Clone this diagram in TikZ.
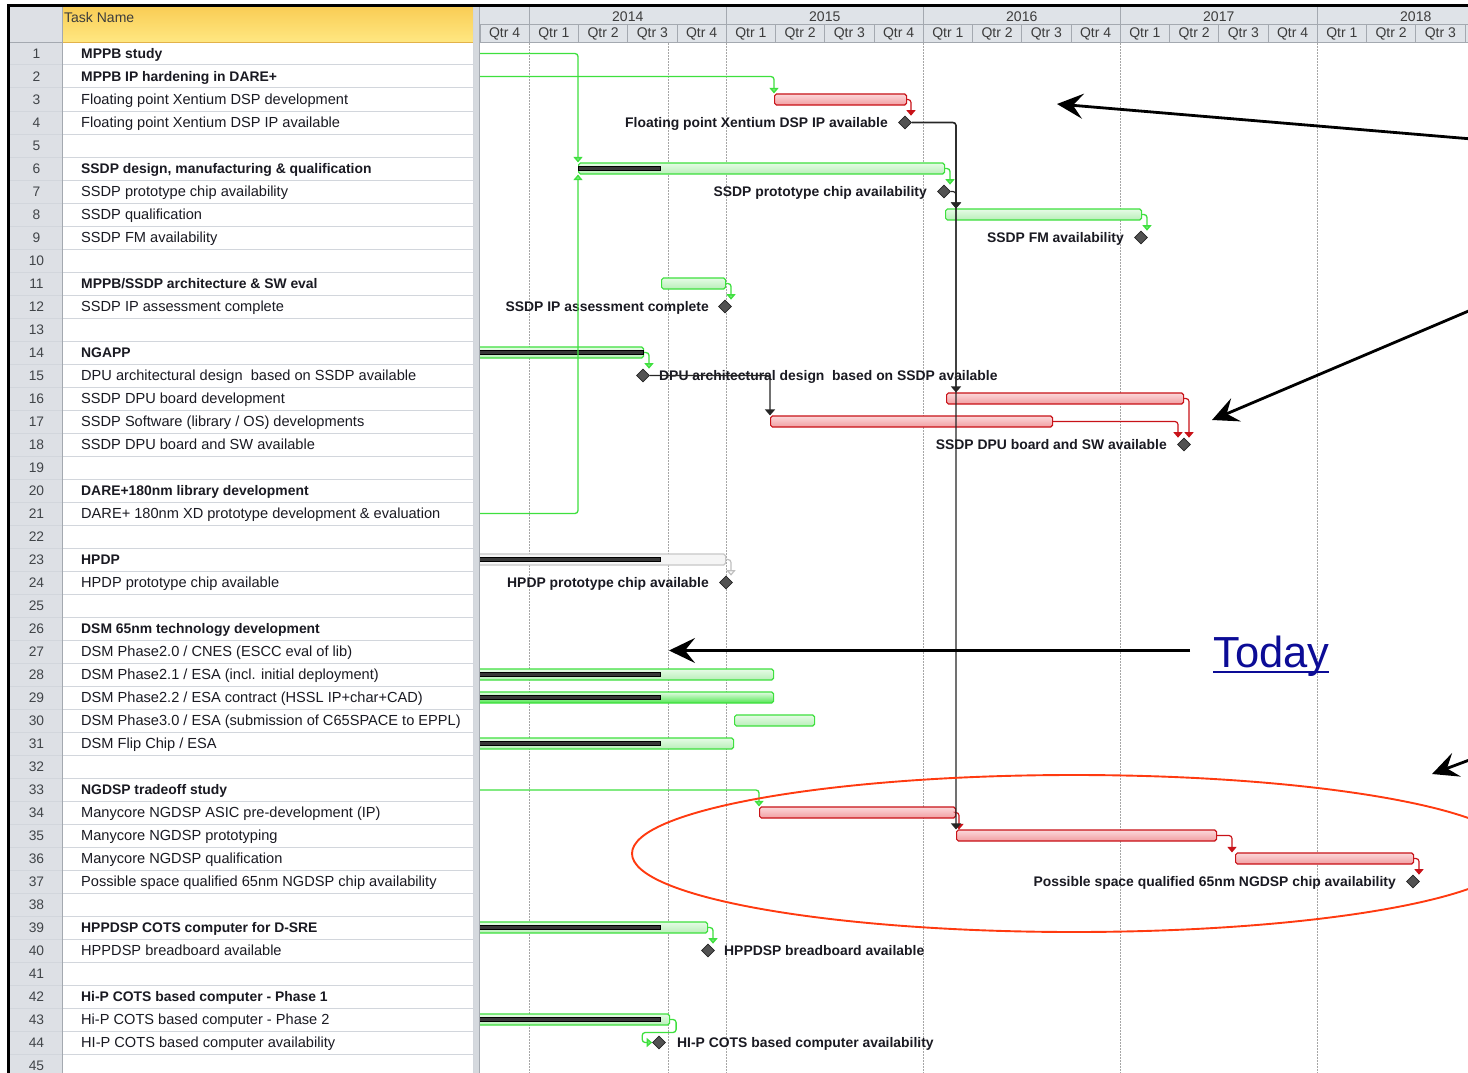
\documentclass[tikz,border=0pt]{standalone}
\usepackage{fontspec}
\setmainfont{Liberation Sans}
\usetikzlibrary{arrows.meta,shapes.geometric,calc}

\definecolor{lgreen}{HTML}{3EE03E}
\definecolor{gfill}{HTML}{CBF3CB}
\definecolor{gtop}{HTML}{E6FBE6}
\definecolor{gbot}{HTML}{B8EFB8}
\definecolor{rline}{HTML}{C81218}
\definecolor{rfill}{HTML}{F6AEB0}
\definecolor{rtop}{HTML}{FBD8DA}
\definecolor{rbot}{HTML}{F29EA2}
\definecolor{hdrgrey}{HTML}{DFE3E8}
\definecolor{hdrline}{HTML}{A4A9B0}
\definecolor{rowline}{HTML}{D2D6DC}
\definecolor{numgrey}{HTML}{DDE0E5}
\definecolor{txt}{HTML}{1A1A22}
\definecolor{numtxtc}{HTML}{404448}
\definecolor{hdrtxt}{HTML}{3C3C3C}
\definecolor{ellred}{HTML}{FF3A10}
\definecolor{todayblue}{HTML}{0C0C96}
\definecolor{yeltop}{HTML}{F9CD55}
\definecolor{yelbot}{HTML}{FFE883}
\definecolor{yelline}{HTML}{E2B24A}
\definecolor{sepgrey}{HTML}{D5D9DE}
\definecolor{g29top}{HTML}{E4FBE4}
\definecolor{g29bot}{HTML}{52E652}

\newcommand\taskrow[3]{\node[#2] (task#1) at (81,{53.5+23*(#1-1)+4.8}) {#3};}
\newcommand\ganttbar[5]{\node[#2, minimum width={#4-#3}, anchor=west] (#1) at (#3,{53.5+23*(#5-1)}) {};}
\newcommand\progbar[4]{\node[prog, minimum width={#3-#2}, anchor=west] (#1) at (#2,{53.5+23*(#4-1)}) {};}
\newcommand\milestone[3]{\node[ms] (#1) at (#2,{53.5+23*(#3-1)}) {};}

\begin{document}
\begin{tikzpicture}[x=1pt,y=-1pt,
  tn/.style={anchor=base west, inner sep=0pt, text=txt, font=\fontsize{14.6}{16}\selectfont},
  tb/.style={anchor=base west, inner sep=0pt, text=txt, font=\fontsize{13.9}{16}\selectfont\bfseries},
  numtxt/.style={anchor=base, inner sep=0pt, text=numtxtc, font=\fontsize{13.8}{16}\selectfont},
  hdr/.style={anchor=base, inner sep=0pt, text=hdrtxt, font=\fontsize{14}{16}\selectfont},
  barbase/.style={rectangle, minimum height=11pt, inner sep=0pt, rounded corners=1.8pt, line width=1.1pt},
  gbar/.style={barbase, draw=lgreen, top color=gtop, bottom color=gbot},
  rbar/.style={barbase, draw=rline, top color=rtop, bottom color=rbot},
  wbar/.style={barbase, draw=black!22, fill=black!4},
  prog/.style={rectangle, minimum height=4.5pt, inner sep=0pt, fill=black!78, draw=black, line width=0.6pt},
  ms/.style={diamond, minimum width=13pt, minimum height=13pt, inner sep=0pt, fill=black!68, draw=black!85, line width=0.6pt},
  mlabL/.style={anchor=base east, inner sep=0pt, text=txt, font=\fontsize{13.9}{16}\selectfont\bfseries},
  mlabR/.style={anchor=base west, inner sep=0pt, text=txt, font=\fontsize{13.9}{16}\selectfont\bfseries},
  gridl/.style={draw=black!35, line width=0.8pt, dash pattern=on 1.5pt off 1.5pt},
  glink/.style={draw=lgreen, line width=1.3pt, rounded corners=3pt, -{Triangle[width=9pt,length=5.5pt,fill=lgreen!70]}},
  rlink/.style={draw=rline, line width=1.2pt, rounded corners=3pt, -{Triangle[width=9pt,length=5.5pt]}},
  blink/.style={draw=black!85, line width=1.2pt, rounded corners=3pt, -{Triangle[width=10pt,length=6pt]}},
  wlink/.style={draw=black!25, line width=1.2pt, rounded corners=3pt, -{Triangle[width=9pt,length=5.5pt,fill=white]}},
  bigarrow/.style={draw=black, line width=2.8pt, -{Stealth[length=26pt,width=25pt,inset=10pt]}}
]
\useasboundingbox (0,0) rectangle (1468,1073);
\fill[white] (0,0) rectangle (1468,1073);

% ---------- table ----------
\fill[numgrey] (10,7) rectangle (62,1073);
\shade[top color=yeltop, bottom color=yelbot] (62,7) rectangle (473,43);
\draw[yelline, line width=1pt] (62,42.5) -- (473,42.5);
\draw[hdrline, line width=0.8pt] (10,42.5) -- (62,42.5);
\foreach \i in {1,...,45} {
  \draw[rowline, line width=1pt] (10,{42+23*\i}) -- (473,{42+23*\i});
}
\draw[hdrline, line width=0.8pt] (62,7) -- (62,1073);
\draw[rowline, line width=1pt] (473,7) -- (473,1073);
\fill[sepgrey] (473.5,7) rectangle (479.5,1073);
\draw[hdrline, line width=1pt] (479.5,7) -- (479.5,1073);

\node[anchor=base west, inner sep=0pt, text=hdrtxt, font=\fontsize{14}{16}\selectfont] (taskname) at (64,22.7) {Task Name};

\foreach \i in {1,...,45} {
  \node[numtxt] (num\i) at (36.5,{53.5+23*(\i-1)+4.8}) {\i};
}

\taskrow{1}{tb}{MPPB study}
\taskrow{2}{tb}{MPPB IP hardening in DARE+}
\taskrow{3}{tn}{Floating point Xentium DSP development}
\taskrow{4}{tn}{Floating point Xentium DSP IP available}
\taskrow{6}{tb}{SSDP design, manufacturing \& qualification}
\taskrow{7}{tn}{SSDP prototype chip availability}
\taskrow{8}{tn}{SSDP qualification}
\taskrow{9}{tn}{SSDP FM availability}
\taskrow{11}{tb}{MPPB/SSDP architecture \& SW eval}
\taskrow{12}{tn}{SSDP IP assessment complete}
\taskrow{14}{tb}{NGAPP}
\taskrow{15}{tn}{DPU architectural design\ \ based on SSDP available}
\taskrow{16}{tn}{SSDP DPU board development}
\taskrow{17}{tn}{SSDP Software (library / OS) developments}
\taskrow{18}{tn}{SSDP DPU board and SW available}
\taskrow{20}{tb}{DARE+180nm library development}
\taskrow{21}{tn}{DARE+ 180nm XD prototype development \& evaluation}
\taskrow{23}{tb}{HPDP}
\taskrow{24}{tn}{HPDP prototype chip available}
\taskrow{26}{tb}{DSM 65nm technology development}
\taskrow{27}{tn}{DSM Phase2.0 / CNES (ESCC eval of lib)}
\taskrow{28}{tn}{DSM Phase2.1 / ESA (incl. initial deployment)}
\taskrow{29}{tn}{DSM Phase2.2 / ESA contract (HSSL IP+char+CAD)}
\taskrow{30}{tn}{DSM Phase3.0 / ESA (submission of C65SPACE to EPPL)}
\taskrow{31}{tn}{DSM Flip Chip / ESA}
\taskrow{33}{tb}{NGDSP tradeoff study}
\taskrow{34}{tn}{Manycore NGDSP ASIC pre-development (IP)}
\taskrow{35}{tn}{Manycore NGDSP prototyping}
\taskrow{36}{tn}{Manycore NGDSP qualification}
\taskrow{37}{tn}{Possible space qualified 65nm NGDSP chip availability}
\taskrow{39}{tb}{HPPDSP COTS computer for D-SRE}
\taskrow{40}{tn}{HPPDSP breadboard available}
\taskrow{42}{tb}{Hi-P COTS based computer - Phase 1}
\taskrow{43}{tn}{Hi-P COTS based computer - Phase 2}
\taskrow{44}{tn}{HI-P COTS based computer availability}

% ---------- gantt header ----------
\fill[hdrgrey] (480,7) rectangle (1468,43);
\draw[hdrline, line width=0.8pt] (480,24.5) -- (1468,24.5);
\draw[hdrline, line width=0.8pt] (480,42.7) -- (1468,42.7);
\foreach \k in {0,...,20} {
  \draw[hdrline, line width=0.8pt] ({480+49.25*\k},24.5) -- ({480+49.25*\k},42.7);
}
\foreach \k in {0,...,19} {
  \pgfmathtruncatemacro{\q}{mod(\k+3,4)+1}
  \node[hdr] (qtr\k) at ({480+49.25*\k+24.6},37.3) {Qtr \q};
}
\foreach \j in {0,...,4} {
  \draw[hdrline, line width=0.8pt] ({529.25+197*\j},7) -- ({529.25+197*\j},24.5);
  \pgfmathtruncatemacro{\yr}{2014+\j}
  \node[hdr] (year\yr) at ({529.25+197*\j+98.5},21.2) {\yr};
}

% ---------- gantt body ----------
\begin{scope}
\clip (480,43.2) rectangle (1468,1073);
\foreach \x in {529.25,668,726.25,923.25,1120.25,1317.25} {
  \draw[gridl] (\x,43.2) -- (\x,1073);
}

% bars
\ganttbar{b3}{rbar}{774}{906}{3}
\ganttbar{b6}{gbar}{578}{944}{6}
\ganttbar{b8}{gbar}{945}{1141}{8}
\ganttbar{b11}{gbar}{661}{725}{11}
\ganttbar{b14}{gbar}{474}{643}{14}
\ganttbar{b16}{rbar}{946}{1183}{16}
\ganttbar{b17}{rbar}{770}{1052}{17}
\ganttbar{b23}{wbar}{474}{725}{23}
\ganttbar{b28}{gbar}{474}{773}{28}
\ganttbar{b29}{gbar, top color=g29top, bottom color=g29bot}{474}{773}{29}
\ganttbar{b30}{gbar}{734}{814}{30}
\ganttbar{b31}{gbar}{474}{733}{31}
\ganttbar{b34}{rbar}{759}{955}{34}
\ganttbar{b35}{rbar}{956}{1216}{35}
\ganttbar{b36}{rbar}{1235}{1413}{36}
\ganttbar{b39}{gbar}{474}{707}{39}
\ganttbar{b43}{gbar}{474}{669}{43}

% progress
\progbar{p6}{578}{660}{6}
\progbar{p14}{474}{643}{14}
\progbar{p23}{474}{660}{23}
\progbar{p28}{474}{660}{28}
\progbar{p29}{474}{660}{29}
\progbar{p31}{474}{660}{31}
\progbar{p39}{474}{660}{39}
\progbar{p43}{474}{660}{43}

% milestones
\milestone{m4}{905}{4}
\milestone{m7}{944}{7}
\milestone{m9}{1141}{9}
\milestone{m12}{725}{12}
\milestone{m15}{643}{15}
\milestone{m18}{1184}{18}
\milestone{m24}{726}{24}
\milestone{m37}{1413}{37}
\milestone{m40}{708}{40}
\milestone{m44}{659}{44}

% milestone labels
\node[mlabL] (l4) at (888,127) {Floating point Xentium DSP IP available};
\node[mlabL] (l7) at (927,196) {SSDP prototype chip availability};
\node[mlabL] (l9) at (1124,242) {SSDP FM availability};
\node[mlabL] (l12) at (709,311) {SSDP IP assessment complete};
\node[mlabR] (l15) at (659,380) {DPU architectural design\ \ based on SSDP available};
\node[mlabL] (l18) at (1167,449) {SSDP DPU board and SW available};
\node[mlabL] (l24) at (709,587) {HPDP prototype chip available};
\node[mlabL] (l37) at (1396,886) {Possible space qualified 65nm NGDSP chip availability};
\node[mlabR] (l40) at (724,955) {HPPDSP breadboard available};
\node[mlabR] (l44) at (677,1047) {HI-P COTS based computer availability};

% link free ends
\coordinate (c1) at (474,53.5);
\coordinate (c2) at (474,76.5);
\coordinate (c21) at (474,513.5);
\coordinate (c33) at (474,790);
\coordinate (vx) at (956,0);

% links
\draw[glink] (c1) -| (b6.north west);
\draw[glink] (c21) -| (b6.south west);
\draw[glink] (c2) -| (b3.north west);
\draw[rlink] (b3.east) -| ([xshift=6pt]m4.north);
\draw[glink] (b6.east) -| ([xshift=6pt]m7.north);
\draw[glink] (b8.east) -| ([xshift=6pt]m9.north);
\draw[glink] (b11.east) -| ([xshift=6pt]m12.north);
\draw[glink] (b14.east) -| ([xshift=6pt]m15.north);
\draw[rlink] (b16.east) -| ([xshift=5pt]m18.north);
\draw[rlink] (b17.east) -| ([xshift=-6pt]m18.north);
\draw[wlink] (b23.east) -| ([xshift=5pt]m24.north);
\draw[glink] (c33) -| (b34.north west);
\draw[rlink] (b34.east) -| ([xshift=3pt]b35.north west);
\draw[rlink] (b35.east) -| ([xshift=-3pt]b36.north west);
\draw[rlink] (b36.east) -| ([xshift=6pt]m37.north);
\draw[glink] (b39.east) -| ([xshift=5pt]m40.north);
\draw[glink] (b43.east) -- ++(6,0) -- ++(0,13) -| ([xshift=-10pt]m44.west) -- (m44.west);
\draw[blink] (m4.east) -| (vx |- b35.north);
\draw[blink] (m4.east) -| (vx |- b16.north);
\draw[blink] (m4.east) -| (vx |- b8.north);
\draw[blink] (m7.east) -| (vx |- b8.north);
\draw[blink] (m15.east) -| (b17.north west);

% ellipse
\draw[ellred, line width=1.9pt] (1074,853.5) ellipse [x radius=442pt, y radius=78.5pt];

% annotation arrows
\coordinate (a1s) at (1478,139.5);
\coordinate (a1e) at (1057,104);
\coordinate (a2s) at (1478,307);
\coordinate (a2e) at (1212,420);
\coordinate (a4s) at (1480,756);
\coordinate (a4e) at (1432,774);
\draw[bigarrow] (a1s) -- (a1e);
\draw[bigarrow] (a2s) -- (a2e);
\draw[bigarrow] (a4s) -- (a4e);

\node[anchor=base west, inner sep=0pt, text=todayblue, font=\fontsize{43.5}{48}\selectfont] (today) at (1213,667) {Today};
\draw[todayblue, line width=2pt] ([yshift=-5pt]today.base west) -- ([yshift=-5pt]today.base east);
\coordinate (ts) at (1190,650.5);
\coordinate (tt) at (669,650.5);
\draw[bigarrow, line width=2.5pt] (ts) -- (tt);
\end{scope}

% frame
\fill[black] (7,4) rectangle (1468,7.2);
\fill[black] (7,4) rectangle (10,1073);
\end{tikzpicture}
\end{document}
